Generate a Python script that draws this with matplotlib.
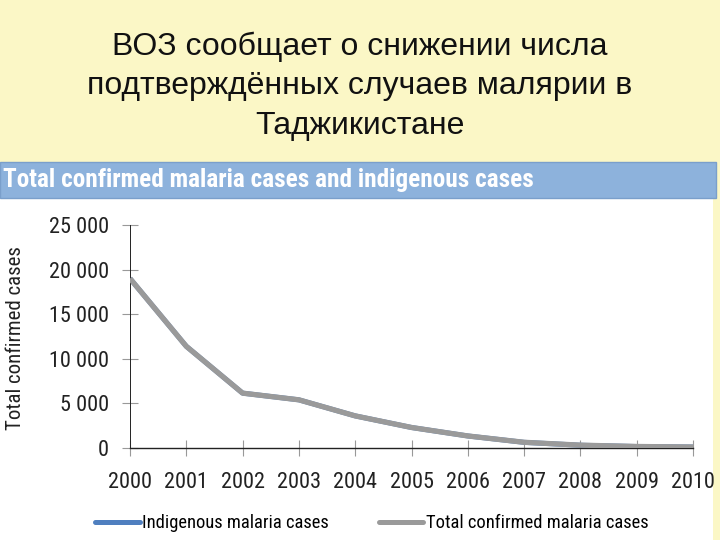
import matplotlib
matplotlib.use("Agg")
import matplotlib.pyplot as plt
from matplotlib.patches import Rectangle
from matplotlib.ticker import FuncFormatter

years = [2000, 2001, 2002, 2003, 2004, 2005, 2006, 2007, 2008, 2009, 2010]
total_cases = [19000, 11400, 6150, 5400, 3600, 2300, 1350, 640, 320, 170, 110]
indigenous_cases = [19000, 11400, 6150, 5400, 3600, 2300, 1350, 635, 310, 165, 110]

title_ru = "ВОЗ сообщает о снижении числа\nподтверждённых случаев малярии в\nТаджикистане"
band_title = "Total confirmed malaria cases and indigenous cases"
legend_labels = ["Indigenous malaria cases", "Total confirmed malaria cases"]

narrow = ["Roboto Condensed", "DejaVu Sans"]
W, H = 720, 540

fig = plt.figure(figsize=(7.2, 5.4), dpi=100, facecolor="#fbf7c6")
# white panel and blue header band
fig.patches.append(Rectangle((0, 0), 713 / W, 1 - 198 / H, transform=fig.transFigure,
                             facecolor="white", edgecolor="none", zorder=-2))
fig.patches.append(Rectangle((0, 1 - 198 / H), 716 / W, 36 / H, transform=fig.transFigure,
                             facecolor="#8db2dc", edgecolor="#7a9fcb", linewidth=1, zorder=-2))

fig.text(0.5, 1 - 86 / H, title_ru, ha="center", va="center", fontsize=23,
         family=["Liberation Sans", "DejaVu Sans"], linespacing=1.42, color="#111111")
fig.text(3 / W, 1 - 180 / H, band_title, ha="left", va="center", fontsize=18.2,
         family=narrow, weight="bold", color="white")

ax = fig.add_axes([130 / W, 1 - 448 / H, 563 / W, 223 / H])
ax.set_zorder(2)
ax.set_facecolor("none")
ax.plot(years, indigenous_cases, color="#4f7fbf", lw=3.6, solid_capstyle="butt", zorder=2)
ax.plot(years, total_cases, color="#9a9a9a", lw=3.8, solid_capstyle="butt", zorder=3)

ax.set_xlim(2000, 2010)
ax.set_ylim(0, 25000)
ax.set_xticks(years)
ax.set_yticks(range(0, 25001, 5000))
ax.yaxis.set_major_formatter(FuncFormatter(lambda v, p: f"{int(v):,}".replace(",", " ")))
for s in ["top", "right"]:
    ax.spines[s].set_visible(False)
for s in ["left", "bottom"]:
    ax.spines[s].set_color("#222222")
    ax.spines[s].set_linewidth(1.0)
ax.spines["left"].set_linewidth(0.7)
ax.tick_params(direction="inout", length=12, width=0.8, color="#999999")
ax.tick_params(axis="y", pad=9)
ax.tick_params(axis="x", pad=11)
for lab in ax.get_xticklabels() + ax.get_yticklabels():
    lab.set_family(narrow)
    lab.set_fontsize(16)
    lab.set_color("#222222")
ax.set_ylabel("Total confirmed cases", family=narrow, fontsize=15, color="#222222")
ax.yaxis.set_label_coords((25 - 130) / 563, 0.495)

h1, = ax.plot([], [], color="#4f7fbf", lw=3.6, solid_capstyle="round")
h2, = ax.plot([], [], color="#9a9a9a", lw=3.6, solid_capstyle="round")
fig.legend([h1, h2], legend_labels,
           loc="center", bbox_to_anchor=(372 / W, 1 - 523 / H), ncol=2, frameon=False,
           prop={"family": narrow, "size": 13.3}, handlelength=2.4, handletextpad=0.15,
           columnspacing=2.7)

fig.savefig("out.png", dpi=100, facecolor=fig.get_facecolor())
